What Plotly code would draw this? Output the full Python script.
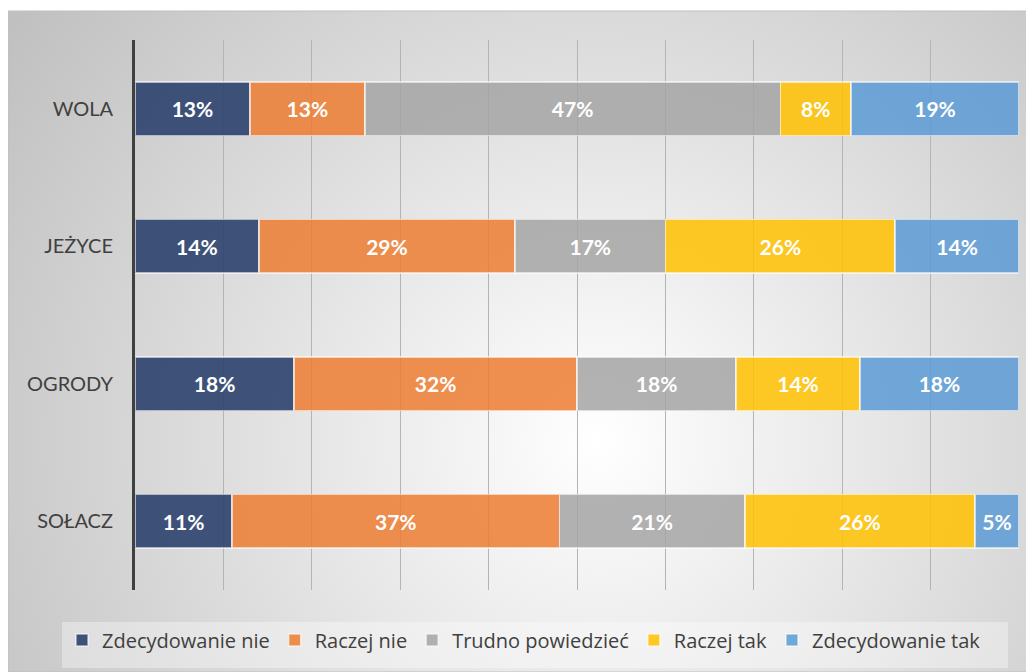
import base64
import plotly.graph_objects as go

districts = ["WOLA", "JEŻYCE", "OGRODY", "SOŁACZ"]
answers = ["Zdecydowanie nie", "Raczej nie", "Trudno powiedzieć", "Raczej tak", "Zdecydowanie tak"]
zdecydowanie_nie = [13, 14, 18, 11]
raczej_nie = [13, 29, 32, 37]
trudno = [47, 17, 18, 21]
raczej_tak = [8, 26, 14, 26]
zdecydowanie_tak = [19, 14, 18, 5]

series = [zdecydowanie_nie, raczej_nie, trudno, raczej_tak, zdecydowanie_tak]
colors = ["rgba(44,66,110,0.9)", "rgba(237,125,49,0.85)", "rgba(165,165,165,0.85)",
          "rgba(255,192,0,0.85)", "rgba(91,155,213,0.85)"]

font = "Lato, 'Open Sans', sans-serif"
legend_font = "'Open Sans', Lato, sans-serif"

# soft radial background like the Office chart style
svg = """<svg xmlns='http://www.w3.org/2000/svg' width='1026' height='661'>
<defs><radialGradient id='g' gradientUnits='userSpaceOnUse' cx='590' cy='430' r='720'>
<stop offset='0' stop-color='#ffffff'/><stop offset='1' stop-color='#c0c0c0'/></radialGradient></defs>
<rect width='1026' height='661' fill='url(#g)'/></svg>"""
bg_uri = "data:image/svg+xml;base64," + base64.b64encode(svg.encode()).decode()

fig = go.Figure()
for name, vals, col in zip(answers, series, colors):
    fig.add_trace(go.Bar(
        y=districts, x=vals, name=name, orientation='h',
        marker=dict(color=col, line=dict(color='rgba(255,255,255,0.6)', width=1.5)),
        text=[f"{v}%" for v in vals], textposition='inside', insidetextanchor='middle',
        textfont=dict(color='white', size=21, family=font, weight='bold'),
        hoverinfo='x+y+name'
    ))

# page has an 8px body margin, so the figure is drawn 8px in from the top-left
W, H = 1026, 664
l, r, t, b = 127, 15, 32, 82
pw, ph = W - l - r, H - t - b


def px(x):
    return (x - l) / pw


def py(y):
    return (H - b - y) / ph


fig.add_layout_image(dict(source=bg_uri, xref='paper', yref='paper', x=px(0), y=py(3),
                          sizex=W / pw, sizey=(H - 3) / ph, xanchor='left', yanchor='top',
                          sizing='stretch', layer='below'))
fig.add_shape(type='rect', xref='paper', yref='paper', x0=px(0), x1=px(W), y0=py(H), y1=py(3),
              line=dict(color='#bfbfbf', width=1), layer='below')
# legend panel
fig.add_shape(type='rect', xref='paper', yref='paper', x0=px(54), x1=px(1000), y0=py(660), y1=py(614),
              line=dict(width=0), fillcolor='rgba(255,255,255,0.35)', layer='below')

fig.update_layout(
    barmode='stack', bargap=0.61,
    width=W, height=H, margin=dict(l=l, r=r, t=t, b=b, autoexpand=False),
    paper_bgcolor='white', plot_bgcolor='rgba(0,0,0,0)',
    font=dict(family=font, color='#404040'),
    xaxis=dict(range=[0, 100], dtick=10, showticklabels=False, showgrid=True,
               gridcolor='#b4b4b4', gridwidth=1, zeroline=False, showline=False, fixedrange=True),
    yaxis=dict(autorange='reversed', showgrid=False, showline=True, linecolor='#404040',
               linewidth=3, ticks='', tickfont=dict(size=20, color='#404040', family=font),
               ticklabelstandoff=15, fixedrange=True),
    legend=dict(orientation='h', x=px(54), xanchor='left', y=py(632), yanchor='middle',
                bgcolor='rgba(0,0,0,0)', font=dict(size=20, color='#404040', family=legend_font),
                itemwidth=30, traceorder='normal'),
    showlegend=True
)

fig.write_html("out.html")
